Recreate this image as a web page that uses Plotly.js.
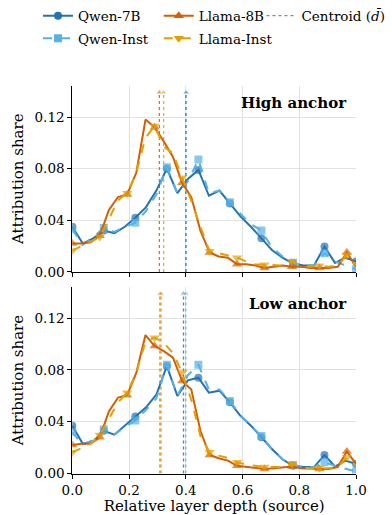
<!DOCTYPE html>
<html>
<head>
<meta charset="utf-8">
<script src="https://cdn.plot.ly/plotly-3.0.1.min.js"></script>
<style>html,body{margin:0;padding:0;background:#fff;}#chart{width:392px;height:515px;}</style>
</head>
<body>
<div id="chart"></div>
<script>
// ---- Data (attribution share per source layer) ----
const qwenLayers = 28;   // Qwen: 28 layers -> relative depth i/27
const llamaLayers = 32;  // Llama: 32 layers -> relative depth i/31

const qwen7bHigh   = [0.035,0.022,0.026,0.032,0.030,0.035,0.042,0.050,0.063,0.080,0.061,0.072,0.079,0.059,0.063,0.053,0.043,0.035,0.026,0.017,0.011,0.0065,0.005,0.005,0.0196,0.007,0.011,0.008];
const qwenInstHigh = [0.033,0.021,0.027,0.034,0.031,0.035,0.038,0.047,0.060,0.081,0.061,0.070,0.087,0.061,0.063,0.054,0.045,0.037,0.032,0.019,0.012,0.007,0.005,0.005,0.0145,0.008,0.005,0.002];
const llama8bHigh  = [0.022,0.022,0.023,0.028,0.048,0.058,0.060,0.077,0.118,0.112,0.101,0.089,0.069,0.058,0.032,0.015,0.012,0.011,0.006,0.006,0.005,0.003,0.004,0.005,0.004,0.004,0.003,0.003,0.003,0.004,0.015,0.004];
const llamaInstHigh= [0.0165,0.020,0.0235,0.027,0.041,0.0555,0.061,0.077,0.104,0.113,0.097,0.092,0.073,0.055,0.035,0.016,0.0145,0.013,0.011,0.008,0.006,0.0055,0.005,0.005,0.008,0.005,0.004,0.0048,0.004,0.005,0.013,0.005];

const qwen7bLow    = [0.037,0.023,0.025,0.033,0.030,0.037,0.044,0.051,0.061,0.083,0.060,0.072,0.074,0.0625,0.064,0.055,0.0445,0.037,0.028,0.019,0.011,0.006,0.005,0.005,0.0143,0.0054,0.010,0.0074];
const qwenInstLow  = [0.032,0.022,0.026,0.034,0.030,0.036,0.041,0.049,0.058,0.084,0.060,0.076,0.084,0.065,0.065,0.056,0.045,0.037,0.029,0.019,0.011,0.0066,0.005,0.005,0.0087,0.006,0.004,0.0015];
const llama8bLow   = [0.022,0.023,0.023,0.028,0.048,0.0587,0.0605,0.078,0.107,0.0985,0.0946,0.0895,0.0715,0.065,0.033,0.0143,0.0118,0.010,0.006,0.005,0.0045,0.0035,0.004,0.0045,0.0054,0.004,0.0035,0.0035,0.0035,0.005,0.017,0.0075];
const llamaInstLow = [0.0164,0.0197,0.0228,0.0297,0.042,0.055,0.0625,0.078,0.102,0.105,0.101,0.093,0.078,0.057,0.029,0.0164,0.0138,0.012,0.0087,0.007,0.006,0.005,0.005,0.005,0.0074,0.005,0.004,0.004,0.004,0.005,0.0125,0.006];

// centroid (mean relative depth) per model: [Qwen-7B, Qwen-Inst, Llama-8B, Llama-Inst]
const centroidHigh = [0.400, 0.402, 0.307, 0.322];
const centroidLow  = [0.392, 0.400, 0.309, 0.313];

const seriesNames = ["Qwen-7B", "Qwen-Inst", "Llama-8B", "Llama-Inst"];
const centroidName = "Centroid (<i>d\u0304</i>)";
const panelTitles = ["High anchor", "Low anchor"];
const xTicks = [0.0, 0.2, 0.4, 0.6, 0.8, 1.0];
const yTicks = [0.00, 0.04, 0.08, 0.12];

// ---- Styles ----
const colors  = ["#2372b6", "#56b1e6", "#d55e00", "#e69f00"];
const symbols = ["circle", "square", "triangle-up", "triangle-down"];
const dashes  = ["solid", "dash", "solid", "dash"];
const msize   = [8, 8, 9, 9];
const legendOf = ["legend", "legend", "legend2", "legend2"];
const font = "'DejaVu Serif', 'Liberation Serif', serif";
const TICK = 13.5, LEG = 13.5, TTL = 15;

function depth(n){ return Array.from({length:n}, (_, i) => i/(n-1)); }
function markSizes(n, s){ return Array.from({length:n}, (_, i) => (i % 3 === 0 ? s : 0)); }

const panels = [
  {data:[qwen7bHigh, qwenInstHigh, llama8bHigh, llamaInstHigh], cent: centroidHigh, xa:'x', ya:'y'},
  {data:[qwen7bLow, qwenInstLow, llama8bLow, llamaInstLow], cent: centroidLow, xa:'x2', ya:'y2'}
];

const traces = [];
const YTOP = 0.1444;
const MARKY = 0.139;
panels.forEach(p => {
  p.cent.forEach((c, k) => {
    traces.push({
      x:[c, c], y:[0, MARKY], xaxis:p.xa, yaxis:p.ya, mode:'lines+markers',
      line:{color:colors[k], width:1.3, dash:'dot'}, opacity:0.85,
      marker:{symbol:'triangle-up', size:[0, 6], color:colors[k]},
      showlegend:false, hoverinfo:'skip'
    });
  });
  p.data.forEach((vals, k) => {
    const n = vals.length;
    traces.push({
      x: depth(n), y: vals, xaxis:p.xa, yaxis:p.ya, mode:'lines+markers',
      line:{color:colors[k], width:2, dash:dashes[k]},
      marker:{symbol:symbols[k], size:markSizes(n, msize[k]), color:colors[k], line:{width:0}},
      showlegend:false, name: seriesNames[k]
    });
  });
});

// legend entries
seriesNames.forEach((nm, k) => {
  traces.push({x:[null], y:[null], mode:'lines+markers', name:nm, legend:legendOf[k], legendgroup:'g'+k,
    line:{color:colors[k], width:2, dash:dashes[k]},
    marker:{symbol:symbols[k], size:msize[k], color:colors[k]}, showlegend:true});
});
traces.push({x:[null], y:[null], mode:'lines', name:centroidName, legend:'legend3',
  line:{color:'#888888', width:1.3, dash:'dot'}, showlegend:true});

const axisCommon = {
  showline:true, linecolor:'#000', linewidth:1, ticks:'outside', ticklen:4, tickcolor:'#000',
  showgrid:true, gridcolor:'#e2e2e2', gridwidth:1, zeroline:false,
  tickfont:{family:font, size:TICK, color:'#000'}
};
const xdom = [0.1844, 0.9082];
const legendCommon = {orientation:'v', y:1.005, xanchor:'left', yanchor:'top', tracegroupgap:2,
  font:{family:font, size:LEG, color:'#000'}, bgcolor:'rgba(0,0,0,0)'};

const layout = {
  width:392, height:515, margin:{l:0, r:0, t:0, b:0},
  paper_bgcolor:'#fff', plot_bgcolor:'#fff',
  font:{family:font, size:TICK, color:'#000'},
  showlegend:true,
  legend:  Object.assign({}, legendCommon, {x:0.097}),
  legend2: Object.assign({}, legendCommon, {x:0.405}),
  legend3: Object.assign({}, legendCommon, {x:0.667}),
  xaxis: Object.assign({}, axisCommon, {domain:xdom, anchor:'y', range:[0,1], tickvals:xTicks, showticklabels:false}),
  yaxis: Object.assign({}, axisCommon, {domain:[0.4748, 0.8388], anchor:'x', range:[0, YTOP], tickvals:yTicks, tickformat:'.2f',
          title:{text:'Attribution share', font:{family:font, size:TTL, color:'#000'}, standoff:7}}),
  xaxis2: Object.assign({}, axisCommon, {domain:xdom, anchor:'y2', range:[0,1], tickvals:xTicks, tickformat:'.1f',
          title:{text:'Relative layer depth (source)', font:{family:font, size:TTL, color:'#000'}, standoff:3}}),
  yaxis2: Object.assign({}, axisCommon, {domain:[0.0810, 0.4460], anchor:'x2', range:[0, YTOP], tickvals:yTicks, tickformat:'.2f',
          title:{text:'Attribution share', font:{family:font, size:TTL, color:'#000'}, standoff:7}}),
  annotations: panelTitles.map((t, i) => ({
    text:'<b>' + t + '</b>', xref: i===0 ? 'x domain' : 'x2 domain', yref: i===0 ? 'y domain' : 'y2 domain',
    x:0.975, y:0.905, xanchor:'right', yanchor:'middle', showarrow:false,
    font:{family:font, size:TTL, color:'#000'}
  }))
};

Plotly.newPlot('chart', traces, layout, {displayModeBar:false, staticPlot:true});
</script>
</body>
</html>
